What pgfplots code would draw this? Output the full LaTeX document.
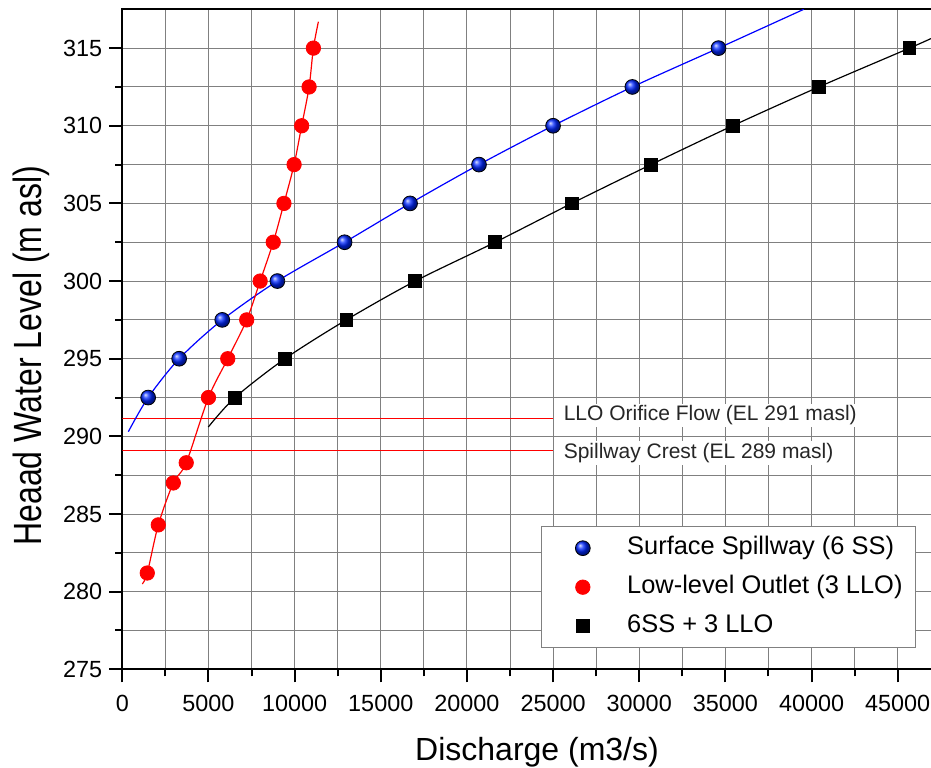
\documentclass[border=0pt]{standalone}
\usepackage{fontspec}
\setmainfont{Liberation Sans}
\usepackage{pgfplots}
\pgfplotsset{compat=1.18}
\begin{document}
\begin{tikzpicture}
\begin{axis}[
  at={(0,0)}, anchor=south west,
  scale only axis, width=405.8pt, height=330pt,
  xmin=0, xmax=47100, ymin=275, ymax=317.5,
  xtick={0,5000,...,45000}, ytick={275,280,...,315},
  minor x tick num=1, minor y tick num=1,
  grid=both,
  major grid style={black!50, line width=0.5pt},
  minor grid style={black!50, line width=0.5pt},
  xtick pos=bottom, ytick pos=left,
  tick align=outside,
  major tick length=6.5pt, minor tick length=3.5pt,
  every tick/.style={black, line width=1pt},
  axis line style={line width=1pt},
  scaled x ticks=false,
  /pgf/number format/1000 sep={},
  /pgf/number format/assume math mode=true,
  tick label style={font=\fontsize{11.7}{14}\selectfont},
  xticklabel style={yshift=-2.8pt},
  xlabel={Discharge (m3/s)},
  xlabel style={at={(rel axis cs:0.511,0)}, anchor=base, yshift=-45.35pt, font=\fontsize{16}{19}\selectfont},
  ylabel={\scalebox{1}[1.23]{Heaad Water Level (m asl)}},
  ylabel style={at={([xshift=-40.3pt]rel axis cs:0,0.475)}, anchor=base, font=\fontsize{16}{19}\selectfont},
  legend style={at={(axis cs:24300,284.21)}, anchor=north west, draw=black!50,
    inner xsep=6.5pt, inner ysep=4.5pt, column sep=8pt, row sep=7pt,
    font=\fontsize{12.7}{15}\selectfont,
    nodes={inner sep=0pt, text height=9.5pt, text depth=3pt, anchor=west}},
  legend cell align=left,
  legend image code/.code={\path (0pt,0pt) (28pt,0pt); \draw[#1] plot coordinates {(14pt,0pt)};},
]
% reference lines
\addplot[red, line width=0.6pt, forget plot] coordinates {(0,291.15) (25000,291.15)};
\addplot[red, line width=0.6pt, forget plot] coordinates {(0,289.07) (25000,289.07)};
% fitted curves
\addplot[blue, line width=0.6pt, smooth, forget plot] coordinates {(350,290.3) (1500,292.5) (3300,295) (5800,297.5) (9000,300) (12900,302.5) (16700,305) (20700,307.5) (25000,310) (29600,312.5) (34600,315) (39550,317.5)};
\addplot[red, line width=0.6pt, smooth, forget plot] coordinates {(1160,280.5) (1450,281.2) (2090,284.3) (2960,287.0) (3710,288.3) (5000,292.5) (6120,295) (7220,297.5) (8000,300) (8760,302.5) (9380,305) (9970,307.5) (10410,310) (10840,312.5) (11090,315) (11380,316.7)};
\addplot[black, line width=0.6pt, smooth, forget plot] coordinates {(4990,290.6) (6540,292.5) (9440,295) (13000,297.5) (17000,300) (21640,302.5) (26080,305) (30680,307.5) (35420,310) (40420,312.5) (45680,315) (47100,315.7)};
% markers
\addplot[only marks, mark=ball, mark size=3.7pt, mark options={ball color=blue!85!cyan}] coordinates {(1500,292.5) (3300,295) (5800,297.5) (9000,300) (12900,302.5) (16700,305) (20700,307.5) (25000,310) (29600,312.5) (34600,315)};
\addlegendentry{Surface Spillway (6 SS)}
\addplot[only marks, mark=*, mark size=3.6pt, mark options={fill=red, draw=red}] coordinates {(1450,281.2) (2090,284.3) (2960,287.0) (3710,288.3) (5000,292.5) (6120,295) (7220,297.5) (8000,300) (8760,302.5) (9380,305) (9970,307.5) (10410,310) (10840,312.5) (11090,315)};
\addlegendentry{Low-level Outlet (3 LLO)}
\addplot[only marks, mark=square*, mark size=3.2pt, mark options={fill=black, draw=black}] coordinates {(6540,292.5) (9440,295) (13000,297.5) (17000,300) (21640,302.5) (26080,305) (30680,307.5) (35420,310) (40420,312.5) (45680,315)};
\addlegendentry{6SS + 3 LLO}
% annotations
\node[anchor=west, fill=white, inner sep=1pt, xshift=4.15pt, yshift=1.5pt, font=\fontsize{10.5}{12}\selectfont, text=black!85] at (axis cs:25000,291.15) {LLO Orifice Flow (EL 291 masl)};
\node[anchor=west, fill=white, inner sep=1pt, xshift=4.15pt, yshift=-1.2pt, font=\fontsize{10.5}{12}\selectfont, text=black!85] at (axis cs:25000,289.07) {Spillway Crest (EL 289 masl)};
\end{axis}
\pgfresetboundingbox
\path (-61.15pt,-48.85pt) rectangle (404.35pt,334.65pt);
\end{tikzpicture}
\end{document}
